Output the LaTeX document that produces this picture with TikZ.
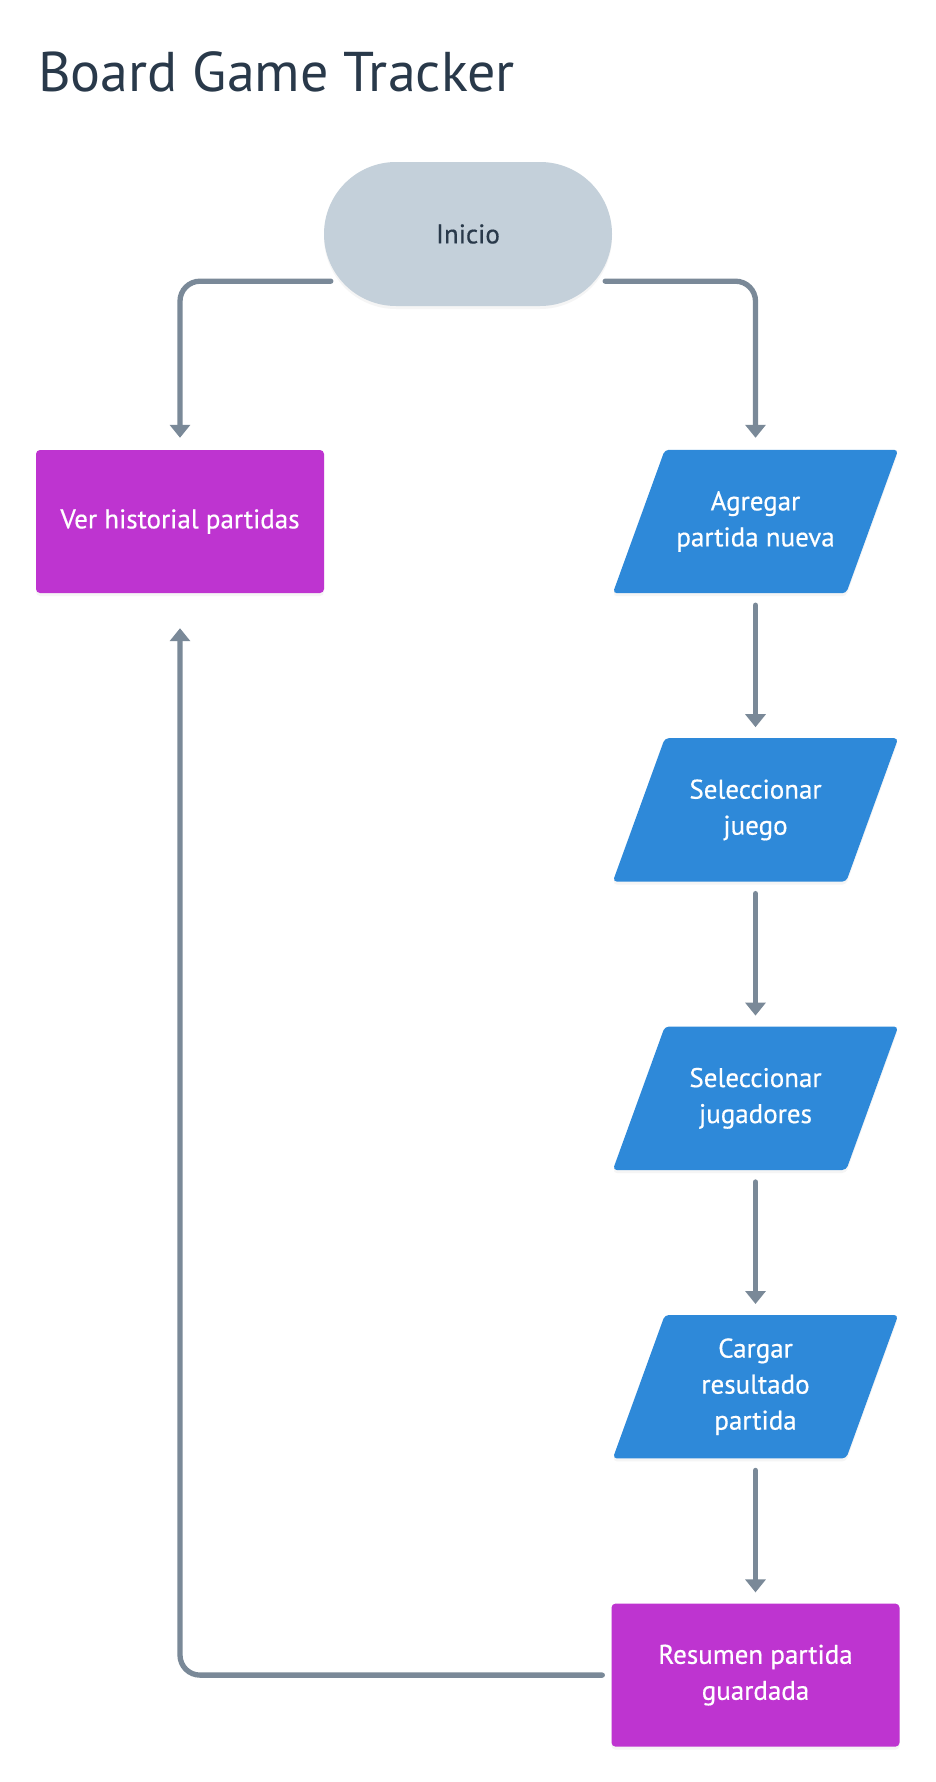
\documentclass[tikz,border=0pt]{standalone}
\usepackage{fontspec}
\setmainfont{PT Sans}
\newfontfamily\boxfont{PT Sans}[FakeBold=0.5]
\usetikzlibrary{positioning,arrows.meta,shadows}

\pgfdeclarelayer{background}
\pgfsetlayers{background,main}

\definecolor{inkdark}{HTML}{29394A}
\definecolor{startgray}{HTML}{C4D0DA}
\definecolor{procmag}{HTML}{BE34D0}
\definecolor{ioblue}{HTML}{2E89D9}
\definecolor{linegray}{HTML}{7A8998}

\tikzset{
  soft/.style={drop shadow={opacity=0.08, shadow xshift=0pt, shadow yshift=-3pt}},
  base/.style={rectangle, minimum width=288pt, minimum height=143pt, align=center, inner sep=0pt,
    font=\boxfont\fontsize{27}{36}\selectfont, text=white},
  startstop/.style={base, soft, rounded corners=72pt, minimum height=144pt,
    fill=startgray, text=inkdark},
  process/.style={base, soft, rounded corners=4pt, fill=procmag},
  io/.style={base, minimum width=285pt},
  iofill/.style={soft, fill=ioblue, rounded corners=4pt},
  flow/.style={draw=linegray, line width=5.3pt, line cap=round,
    -{Triangle[width=20pt,length=13pt]}},
}

\begin{document}
\begin{tikzpicture}[x=1pt,y=-1pt]
  \useasboundingbox (0,0) rectangle (936,1782);

  \node[anchor=base west, inner sep=0pt, text=inkdark, font=\fontsize{56}{60}\selectfont] (title) at (38,92) {Board Game Tracker};

  \node[startstop] (inicio) at (468,234) {Inicio};
  \node[process] (historial) at (180,521.5) {Ver historial partidas};
  \node[io] (agregar) at (755.5,521.5) {Agregar\\partida nueva};
  \node[io, below=145pt of agregar] (juego) {Seleccionar\\juego};
  \node[io, below=145pt of juego] (jugadores) {Seleccionar\\jugadores};
  \node[io, below=145pt of jugadores] (resultado) {Cargar\\resultado\\partida};
  \node[process, below=145pt of resultado] (resumen) {Resumen partida\\guardada};

  % paralelogramos detras del texto
  \begin{pgfonlayer}{background}
    \fill[white] (0,0) rectangle (936,1782);
    \foreach \n in {agregar,juego,jugadores,resultado}
      \fill[iofill] ([xshift=52pt]\n.north west) -- (\n.north east)
        -- ([xshift=-52pt]\n.south east) -- (\n.south west) -- cycle;
  \end{pgfonlayer}

  % salidas de inicio
  \coordinate (outl) at ([shift={(7,-25)}]inicio.south west);
  \coordinate (outr) at ([shift={(-7,-25)}]inicio.south east);
  \draw[flow, rounded corners=20pt, shorten >=12pt] (outl) -| (historial.north);
  \draw[flow, rounded corners=20pt, shorten >=12pt] (outr) -| (agregar.north);

  \foreach \a/\b in {agregar/juego, juego/jugadores, jugadores/resultado, resultado/resumen}
    \draw[flow, shorten <=12pt, shorten >=11pt] (\a.south) -- (\b.north);

  % vuelta al historial
  \coordinate (back) at ([xshift=-9pt]resumen.west);
  \draw[flow, rounded corners=20pt, shorten >=35pt] (back) -| (historial.south);
\end{tikzpicture}
\end{document}
